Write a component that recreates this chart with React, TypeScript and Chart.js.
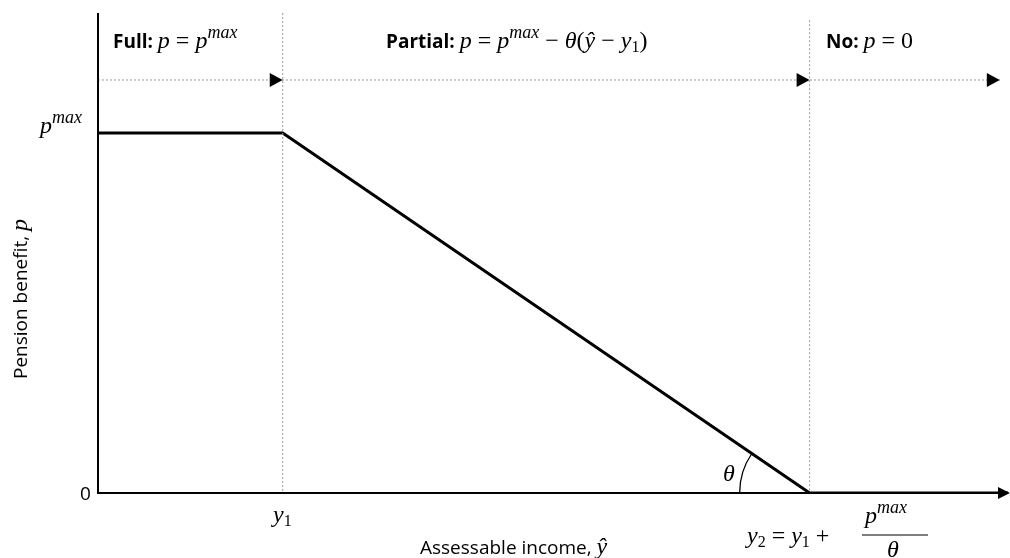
import React, { useEffect, useRef } from 'react';
import Chart from 'chart.js/auto';

const xMin = 0;
const xMax = 100;
const yMin = 0;
const yMax = 1.333;
const y1 = 20.3;
const y2 = 78.2;
const pMax = 1;
const arrowLevel = 1.147;
const benefitX = [0, y1, y2, 100];
const benefitY = [pMax, pMax, 0, 0];
const arrowHeadsX = [y1, y2, 99.1];

type Run = { t: string; f: string; dy?: number };
const B = 'bold 19px "Open Sans", "Liberation Sans", sans-serif';
const I = 'italic 24px "Liberation Serif", "DejaVu Serif", serif';
const IS = 'italic 18px "Liberation Serif", "DejaVu Serif", serif';
const R = '24px "Liberation Serif", serif';
const RS = '16px "Liberation Serif", serif';
const SANS = '19px "Open Sans", "Liberation Sans", sans-serif';

function drawRuns(ctx: CanvasRenderingContext2D, runs: Run[], x: number, y: number) {
  let cx = x;
  for (const r of runs) {
    ctx.font = r.f;
    ctx.fillText(r.t, cx, y + (r.dy || 0));
    cx += ctx.measureText(r.t).width;
  }
}

const overlay = {
  id: 'overlay',
  afterDatasetsDraw(chart: any) {
    const ctx: CanvasRenderingContext2D = chart.ctx;
    const xs = chart.scales.x;
    const ys = chart.scales.y;
    const area = chart.chartArea;
    const px = (v: number) => xs.getPixelForValue(v);
    const py = (v: number) => ys.getPixelForValue(v);
    ctx.save();
    ctx.fillStyle = '#000';
    ctx.strokeStyle = '#000';
    // axes
    ctx.lineWidth = 2;
    ctx.beginPath();
    ctx.moveTo(area.left, area.top);
    ctx.lineTo(area.left, py(0));
    ctx.lineTo(area.right - 6, py(0));
    ctx.stroke();
    ctx.beginPath();
    ctx.moveTo(area.right + 2, py(0));
    ctx.lineTo(area.right - 10, py(0) - 6);
    ctx.lineTo(area.right - 10, py(0) + 6);
    ctx.closePath();
    ctx.fill();
    // dotted arrow heads
    for (const ax of arrowHeadsX) {
      const X = px(ax);
      const Y = py(arrowLevel);
      ctx.beginPath();
      ctx.moveTo(X, Y);
      ctx.lineTo(X - 13, Y - 7);
      ctx.lineTo(X - 13, Y + 7);
      ctx.closePath();
      ctx.fill();
    }
    // theta arc
    const cx = px(y2);
    const cy = py(0);
    const ang = Math.atan2(py(pMax) - cy, px(y1) - cx);
    ctx.lineWidth = 1.3;
    ctx.beginPath();
    ctx.arc(cx, cy, 70, -Math.PI, ang, false);
    ctx.stroke();
    drawRuns(ctx, [{ t: 'θ', f: I }], 723, 481);
    // region labels
    const ty = 48;
    drawRuns(ctx, [{ t: 'Full', f: B }, { t: ': ', f: B }, { t: 'p', f: I }, { t: ' = ', f: R }, { t: 'p', f: I }, { t: 'max', f: IS, dy: -10 }], 113, ty);
    drawRuns(ctx, [{ t: 'Partial', f: B }, { t: ': ', f: B }, { t: 'p', f: I }, { t: ' = ', f: R }, { t: 'p', f: I }, { t: 'max', f: IS, dy: -10 }, { t: ' − ', f: R }, { t: 'θ', f: I }, { t: '(', f: R }, { t: 'ŷ', f: I }, { t: ' − ', f: R }, { t: 'y', f: I }, { t: '1', f: RS, dy: 4 }, { t: ')', f: R }], 386, ty);
    drawRuns(ctx, [{ t: 'No', f: B }, { t: ': ', f: B }, { t: 'p', f: I }, { t: ' = 0', f: R }], 826, ty);
    // tick labels
    drawRuns(ctx, [{ t: 'p', f: I }, { t: 'max', f: IS, dy: -10 }], 40, 133);
    ctx.font = SANS;
    ctx.fillText('0', 80, 500);
    drawRuns(ctx, [{ t: 'y', f: I }, { t: '1', f: RS, dy: 4 }], 273, 522);
    drawRuns(ctx, [{ t: 'y', f: I }, { t: '2', f: RS, dy: 4 }, { t: ' = ', f: R }, { t: 'y', f: I }, { t: '1', f: RS, dy: 4 }, { t: ' + ', f: R }], 747, 543);
    drawRuns(ctx, [{ t: 'p', f: I }, { t: 'max', f: IS, dy: -10 }], 865, 523);
    ctx.lineWidth = 1.2;
    ctx.beginPath();
    ctx.moveTo(862, 535);
    ctx.lineTo(928, 535);
    ctx.stroke();
    drawRuns(ctx, [{ t: 'θ', f: I }], 887, 557);
    ctx.font = SANS;
    ctx.fillText('Assessable income, ', 420, 554);
    drawRuns(ctx, [{ t: 'ŷ', f: I }], 420 + ctx.measureText('Assessable income, ').width, 554);
    // y title
    ctx.translate(27, 300);
    ctx.rotate(-Math.PI / 2);
    ctx.font = SANS;
    const t = 'Pension benefit, ';
    const w = ctx.measureText(t).width;
    ctx.fillText(t, -(w + 10) / 2, 0);
    drawRuns(ctx, [{ t: 'p', f: I }], -(w + 10) / 2 + w, 0);
    ctx.restore();
  },
};

export default function App() {
  const ref = useRef<HTMLCanvasElement>(null);
  useEffect(() => {
    if (!ref.current) return;
    document.body.style.margin = '0';
    const dotted = { borderColor: '#999', borderWidth: 1, borderDash: [2, 2], pointRadius: 0, fill: false };
    const chart = new Chart(ref.current, {
      type: 'scatter',
      data: {
        datasets: [
          { ...dotted, showLine: true, data: [{ x: 0, y: arrowLevel }, { x: 99.1, y: arrowLevel }] },
          { ...dotted, showLine: true, data: [{ x: y1, y: yMax }, { x: y1, y: 0 }] },
          { ...dotted, showLine: true, data: [{ x: y2, y: yMax - 0.02 }, { x: y2, y: 0 }] },
          {
            showLine: true,
            borderColor: '#000',
            borderWidth: 3,
            pointRadius: 0,
            data: benefitX.map((x, i) => ({ x, y: benefitY[i] })),
          },
        ],
      },
      options: {
        animation: false,
        responsive: false,
        layout: { padding: { left: 98, right: 2, top: 13, bottom: 65 } },
        plugins: { legend: { display: false }, tooltip: { enabled: false } },
        scales: {
          x: { type: 'linear', min: xMin, max: xMax, display: false },
          y: { type: 'linear', min: yMin, max: yMax, display: false },
        },
      },
      plugins: [overlay],
    });
    return () => chart.destroy();
  }, []);
  return <canvas ref={ref} width={1010} height={558} style={{ display: 'block', background: '#fff' }} />;
}
